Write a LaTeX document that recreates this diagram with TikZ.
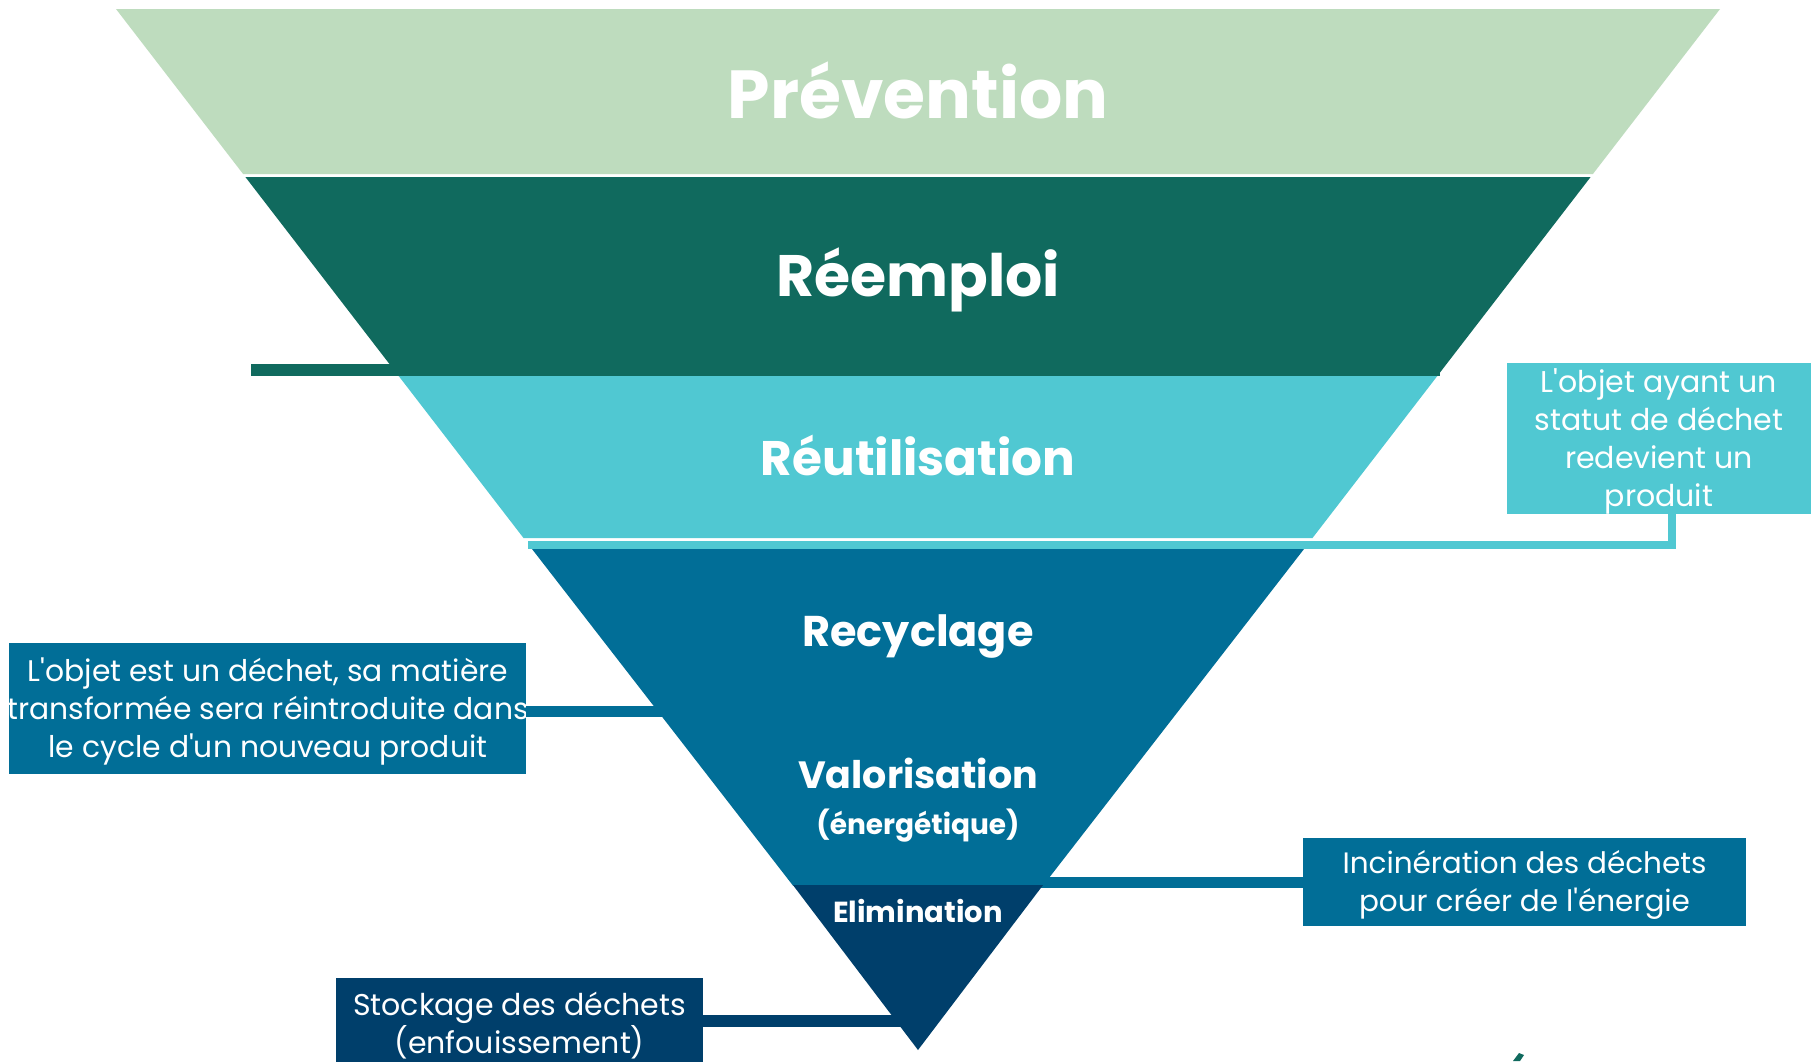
\documentclass[tikz,border=0pt]{standalone}
\usepackage{fontspec}
\newfontfamily\titlefont{Poppins}
\newfontfamily\boxfont{Poppins}
\definecolor{cprev}{HTML}{BEDCBE}
\definecolor{creem}{HTML}{106A5E}
\definecolor{creut}{HTML}{50C8D2}
\definecolor{crecy}{HTML}{016E97}
\definecolor{celim}{HTML}{003F6B}
\begin{document}
\begin{tikzpicture}[x=1pt,y=-1pt,
  title/.style={text=white,font=\titlefont\bfseries\fontsize{#1}{#1}\selectfont,anchor=base,inner sep=0pt},
  boxshape/.style={fill=#1,inner sep=0pt,draw=none},
  btext/.style={text=white,font=\boxfont\fontsize{#1}{38}\selectfont,align=center,inner sep=0pt},
  conn/.style={draw=#1,line width=11pt}
]
\useasboundingbox (0,0) rectangle (1820,1061);
\fill[white] (0,0) rectangle (1820,1061);

% boxes
\node[boxshape=creut,minimum width=304pt,minimum height=151pt] (cb) at (1659,438.5) {};
\node[btext=30] (cbt) at (1659,441) {L'objet ayant un\\statut de déchet\\redevient un\\produit};
\node[boxshape=crecy,minimum width=517pt,minimum height=131pt] (lb) at (267.5,708.5) {};
\node[btext=29.8] (lbt) at (268,711) {L'objet est un déchet, sa matière\\transformée sera réintroduite dans\\le cycle d'un nouveau produit};
\node[boxshape=crecy,minimum width=443pt,minimum height=88pt] (ib) at (1524.5,882) {};
\node[btext=29.5] (ibt) at (1524.5,885) {Incinération des déchets\\pour créer de l'énergie};
\node[boxshape=celim,minimum width=367pt,minimum height=96pt] (sb) at (519.5,1026) {};
\node[btext=30] (sbt) at (519.5,1026) {Stockage des déchets\\(enfouissement)};

% connectors
\coordinate (g1) at (251,370);
\coordinate (g2) at (1440,370);
\draw[conn=creem,line width=12pt] (g1) -- (g2);
\coordinate (c2) at (528,545);
\draw[conn=creut,line width=8pt] ([xshift=13pt]cb.south) |- (c2);
\coordinate (l2) at (690,711);
\draw[conn=crecy] (lb.east |- l2) -- (l2);
\coordinate (i1) at (1030,882.5);
\draw[conn=crecy] (i1) -- (ib.west |- i1);
\coordinate (s2) at (905,1021);
\draw[conn=celim,line width=12pt] (s2 -| sb.east) -- (s2);

% pyramid
\fill[cprev] (116,9) -- (1720,9) -- (1592.9,174) -- (243.1,174) -- cycle;
\fill[creem] (245.4,177) -- (1590.6,177) -- (1437.3,376) -- (398.7,376) -- cycle;
\fill[creut] (398.7,376) -- (1437.3,376) -- (1312.5,538) -- (523.5,538) -- cycle;
\fill[crecy] (532,549) -- (1304,549) -- (1043.1,885.5) -- (792.9,885.5) -- cycle;
\fill[celim] (792.9,885) -- (1043.1,885) -- (918,1050) -- cycle;

% stray mark
\fill[creem] (1513,1061) -- (1519,1053) -- (1524,1055) -- (1520,1061) -- cycle;

% titles
\node[title=68] (t1) at (918,118) {Prévention};
\node[title=58.5] (t2) at (918,296) {Réemploi};
\node[title=48.5] (t3) at (918,475) {Réutilisation};
\node[title=43] (t4) at (918,646) {Recyclage};
\node[title=38] (t5) at (918,788) {Valorisation};
\node[title=28] (t6) at (918,834) {(énergétique)};
\node[title=29] (t7) at (918,922) {Elimination};
\end{tikzpicture}
\end{document}
